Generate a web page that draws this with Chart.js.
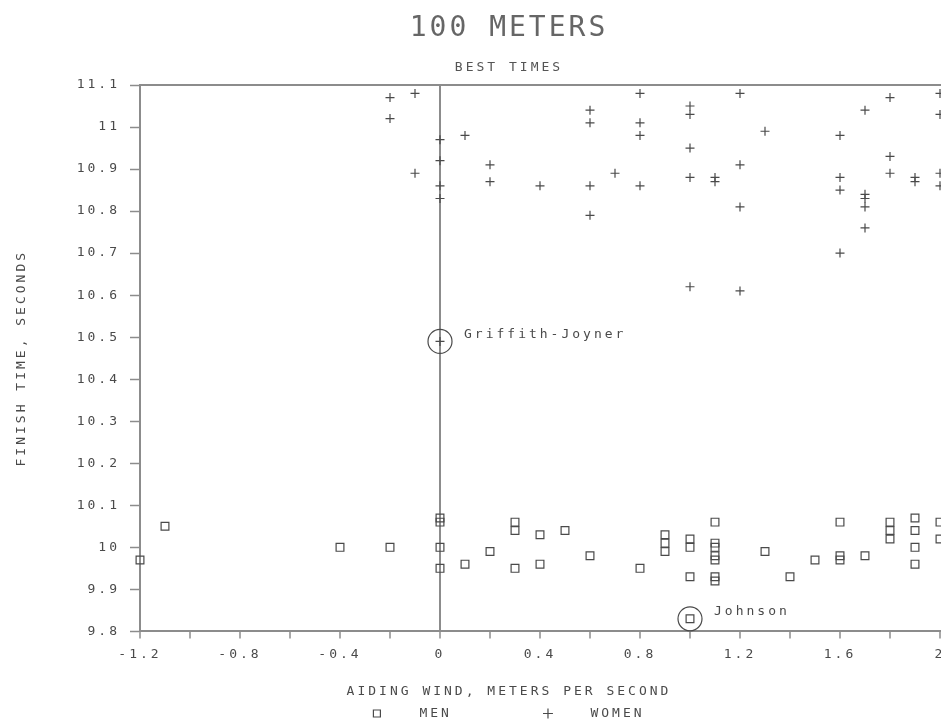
<!DOCTYPE html>
<html>
<head>
<meta charset="utf-8">
<title>100 Meters - Best Times</title>
<script src="https://cdn.jsdelivr.net/npm/chart.js@4"></script>
<style>
html, body { margin: 0; padding: 0; background: #fff; overflow: hidden; }
canvas { display: block; }
</style>
</head>
<body>
<canvas id="grafico" width="1018" height="730"></canvas>
<script>
// -------- DATA (wind m/s, finish time s)

const menWind = [-1.2, -1.1, -0.4, -0.2, 0, 0, 0, 0, 0.1, 0.2, 0.3, 0.3, 0.3, 0.4, 0.4, 0.5, 0.6, 0.8,
  0.9, 0.9, 0.9, 1.0, 1.0, 1.0, 1.0, 1.1, 1.1, 1.1, 1.1, 1.1, 1.1, 1.1, 1.3, 1.4, 1.5,
  1.6, 1.6, 1.6, 1.7, 1.8, 1.8, 1.8, 1.9, 1.9, 1.9, 1.9, 2.0, 2.0];
const menTime = [9.97, 10.05, 10.00, 10.00, 10.07, 10.06, 10.00, 9.95, 9.96, 9.99, 10.06, 10.04, 9.95, 10.03, 9.96, 10.04, 9.98, 9.95,
  10.03, 10.01, 9.99, 10.02, 10.00, 9.93, 9.83, 10.06, 10.01, 10.00, 9.98, 9.97, 9.93, 9.92, 9.99, 9.93, 9.97,
  10.06, 9.98, 9.97, 9.98, 10.06, 10.04, 10.02, 10.07, 10.04, 10.00, 9.96, 10.06, 10.02];

const womenWind = [-0.2, -0.2, -0.1, -0.1, 0, 0, 0, 0, 0, 0.1, 0.2, 0.2, 0.4,
  0.6, 0.6, 0.6, 0.6, 0.7, 0.8, 0.8, 0.8, 0.8,
  1.0, 1.0, 1.0, 1.0, 1.0, 1.1, 1.1, 1.2, 1.2, 1.2, 1.2, 1.3,
  1.6, 1.6, 1.6, 1.6, 1.7, 1.7, 1.7, 1.7, 1.7, 1.8, 1.8, 1.8, 1.9, 1.9,
  2.0, 2.0, 2.0, 2.0];
const womenTime = [11.07, 11.02, 11.08, 10.89, 10.97, 10.92, 10.86, 10.83, 10.49, 10.98, 10.91, 10.87, 10.86,
  11.04, 11.01, 10.86, 10.79, 10.89, 11.08, 11.01, 10.98, 10.86,
  11.05, 11.03, 10.95, 10.88, 10.62, 10.87, 10.88, 11.08, 10.91, 10.81, 10.61, 10.99,
  10.98, 10.88, 10.85, 10.70, 11.04, 10.84, 10.83, 10.81, 10.76, 11.07, 10.93, 10.89, 10.88, 10.87,
  11.08, 11.03, 10.89, 10.86];

// circled records
const calloutNames = ["Griffith-Joyner", "Johnson"];
const calloutWind = [0, 1.0];
const calloutTime = [10.49, 9.83];

// ticks
const xTickValues = [-1.2, -1.0, -0.8, -0.6, -0.4, -0.2, 0, 0.2, 0.4, 0.6, 0.8, 1.0, 1.2, 1.4, 1.6, 1.8, 2.0, 2.2];
const xTickLabels = ["-1.2", "", "-0.8", "", "-0.4", "", "0", "", "0.4", "", "0.8", "", "1.2", "", "1.6", "", "2", ""];
const yTickValues = [9.8, 9.9, 10.0, 10.1, 10.2, 10.3, 10.4, 10.5, 10.6, 10.7, 10.8, 10.9, 11.0, 11.1];
const yTickLabels = ["9.8", "9.9", "10", "10.1", "10.2", "10.3", "10.4", "10.5", "10.6", "10.7", "10.8", "10.9", "11", "11.1"];

// -------- STYLE

const ink = "#4a4a4a";
const axisGray = "#8c8c8c";
const mono = "'DejaVu Sans Mono', 'Liberation Mono', monospace";

const toPoints = (xs, ys) => xs.map((v, i) => ({x: v, y: ys[i]}));

// plotter style lettering
const spacing = {
  id: "spacing",
  beforeLayout(chart) { chart.ctx.letterSpacing = "3px"; },
  beforeDraw(chart) { chart.ctx.letterSpacing = "3px"; }
};

// names next to the circled points
const callouts = {
  id: "callouts",
  afterDatasetsDraw(chart) {
    const {ctx, scales} = chart;
    ctx.save();
    ctx.font = "13px " + mono;
    ctx.fillStyle = ink;
    ctx.textAlign = "left";
    ctx.textBaseline = "middle";
    calloutNames.forEach((name, i) => {
      const px = scales.x.getPixelForValue(calloutWind[i]);
      const py = scales.y.getPixelForValue(calloutTime[i]);
      ctx.fillText(name, px + 24, py - 7);
    });
    ctx.restore();
  }
};

new Chart(
document.getElementById("grafico"),
{
type: "scatter",
data: {
  datasets: [
    {
      label: "MEN",
      data: toPoints(menWind, menTime),
      pointStyle: "rect",
      pointRadius: 5.5,
      borderWidth: 1.2,
      borderColor: ink,
      backgroundColor: "rgba(0,0,0,0)",
      clip: false
    },
    {
      label: "WOMEN",
      data: toPoints(womenWind, womenTime),
      pointStyle: "cross",
      pointRadius: 4.5,
      borderWidth: 1.2,
      borderColor: ink,
      backgroundColor: ink,
      clip: false
    },
    {
      label: "records",
      data: toPoints(calloutWind, calloutTime),
      pointStyle: "circle",
      pointRadius: 12,
      borderWidth: 1.2,
      borderColor: ink,
      backgroundColor: "rgba(0,0,0,0)",
      clip: false
    }
  ]
},
options: {
  responsive: false,
  animation: false,
  events: [],
  layout: { padding: 0, autoPadding: false },
  plugins: {
    title: {
      display: true,
      text: "100 METERS",
      color: "#666",
      font: { family: mono, size: 28, weight: "normal" },
      padding: { top: 12, bottom: 0 }
    },
    subtitle: {
      display: true,
      text: "BEST TIMES",
      color: "#555",
      font: { family: mono, size: 13, weight: "normal" },
      padding: { top: 14.4, bottom: 9.4 }
    },
    legend: {
      position: "bottom",
      title: {
        display: true,
        text: "AIDING WIND, METERS PER SECOND",
        color: ink,
        font: { family: mono, size: 13 },
        padding: 0
      },
      labels: {
        usePointStyle: true,
        boxWidth: 7,
        boxHeight: 7,
        padding: 6,
        color: ink,
        font: { family: mono, size: 13 },
        filter: item => item.datasetIndex < 2,
        generateLabels(chart) {
          const items = Chart.defaults.plugins.legend.labels.generateLabels(chart);
          items.forEach(it => {
            it.text = it.datasetIndex === 0 ? "   " + it.text + "        " : "   " + it.text;
            it.fillStyle = "rgba(0,0,0,0)";
          });
          return items;
        }
      }
    },
    tooltip: { enabled: false }
  },
  scales: {
    x: {
      type: "linear",
      min: -1.2,
      max: 2.312,
      afterBuildTicks: s => { s.ticks = xTickValues.map(v => ({value: v})); },
      afterFit: s => { s.height = 54; },
      ticks: {
        autoSkip: false,
        maxRotation: 0,
        padding: 8,
        color: ink,
        font: { family: mono, size: 13 },
        callback: (v, i) => xTickLabels[i]
      },
      grid: {
        drawOnChartArea: true,
        color: c => (c.tick && c.tick.value === 0 ? axisGray : "rgba(0,0,0,0)"),
        lineWidth: 2,
        tickColor: axisGray,
        tickLength: 7,
        tickWidth: 1.5
      },
      border: { display: true, color: axisGray, width: 2 }
    },
    x2: {
      type: "linear",
      position: "top",
      min: -1.2,
      max: 2.312,
      afterFit: s => { s.height = 0; },
      ticks: { display: false },
      grid: { display: false },
      border: { display: true, color: axisGray, width: 2 }
    },
    y: {
      type: "linear",
      min: 9.8,
      max: 11.1,
      afterBuildTicks: s => { s.ticks = yTickValues.map(v => ({value: v})); },
      afterFit: s => { s.width = 140; },
      ticks: {
        padding: 10,
        color: ink,
        font: { family: mono, size: 13 },
        callback: (v, i) => yTickLabels[i]
      },
      grid: {
        drawOnChartArea: false,
        tickColor: axisGray,
        tickLength: 10,
        tickWidth: 1.5
      },
      border: { display: true, color: axisGray, width: 2 },
      title: {
        display: true,
        text: "FINISH TIME, SECONDS",
        color: ink,
        font: { family: mono, size: 13 },
        padding: { top: 14, bottom: 0 }
      }
    }
  }
},
plugins: [spacing, callouts]
}
);
</script>
</body>
</html>
